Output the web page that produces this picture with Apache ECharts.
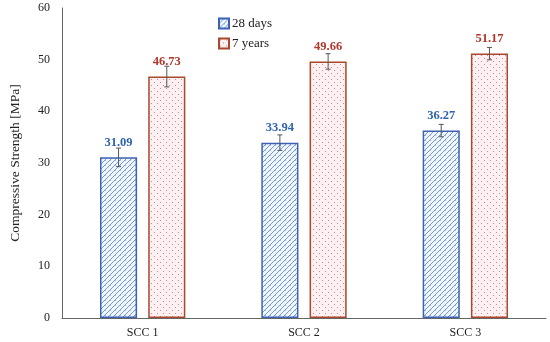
<!DOCTYPE html>
<html><head><meta charset="utf-8">
<script src="https://cdn.jsdelivr.net/npm/echarts@6/dist/echarts.min.js"></script>
<style>html,body{margin:0;padding:0;background:#fff}#c{width:550px;height:342px}</style>
</head><body><div id="c"></div>
<script>
const categories = ['SCC 1', 'SCC 2', 'SCC 3'];
const seriesNames = ['28 days', '7 years'];
const days28 = [31.09, 33.94, 36.27];
const years7 = [46.73, 49.66, 51.17];
const err28 = [1.8, 1.5, 1.2];
const err7 = [2.0, 1.5, 1.2];
const yTicks = [0, 10, 20, 30, 40, 50, 60];

function hatch() {
  const c = document.createElement('canvas'); c.width = 5; c.height = 5;
  const g = c.getContext('2d');
  g.fillStyle = '#eef7fd'; g.fillRect(0, 0, 5, 5);
  g.strokeStyle = '#7b97d2'; g.lineWidth = 1;
  g.beginPath(); g.moveTo(-1, 6); g.lineTo(6, -1); g.stroke();
  g.beginPath(); g.moveTo(-3.5, 3.5); g.lineTo(3.5, -3.5); g.stroke();
  g.beginPath(); g.moveTo(1.5, 8.5); g.lineTo(8.5, 1.5); g.stroke();
  g.fillStyle = '#a9bde4'; g.fillRect(0, 0, 1, 1);
  return c;
}
function dots() {
  const c = document.createElement('canvas'); c.width = 6; c.height = 6;
  const g = c.getContext('2d');
  g.fillStyle = '#fdf0f2'; g.fillRect(0, 0, 6, 6);
  g.fillStyle = '#d08a8a';
  g.fillRect(1, 1, 1, 1); g.fillRect(4, 4, 1, 1);
  return c;
}
const chart = echarts.init(document.getElementById('c'));
const font = '"Liberation Serif", "DejaVu Serif", serif';
function errSeries(vals, errs, sign) {
  return {
    type: 'custom', silent: true, z: 10,
    data: vals.map((v, i) => [i, v, errs[i]]),
    renderItem: function (params, api) {
      const i = api.value(0), v = api.value(1), e = api.value(2);
      const band = api.size([1, 0])[0];
      const off = sign * band * 0.23 * 1.3 / 2;
      const top = api.coord([i, v + e]);
      const bot = api.coord([i, v - e]);
      const x = top[0] + off;
      const w = 2.5;
      const st = { stroke: '#555', lineWidth: 1 };
      return { type: 'group', children: [
        { type: 'line', shape: { x1: x, y1: top[1], x2: x, y2: bot[1] }, style: st },
        { type: 'line', shape: { x1: x - w, y1: top[1], x2: x + w, y2: top[1] }, style: st },
        { type: 'line', shape: { x1: x - w, y1: bot[1], x2: x + w, y2: bot[1] }, style: st }
      ]};
    }
  };
}
chart.setOption({
  animation: false,
  grid: { left: 60, right: 4, top: 8, bottom: 24 },
  legend: {
    orient: 'vertical', left: 213, top: 12, itemWidth: 10, itemHeight: 10, itemGap: 7,
    icon: 'rect',
    data: seriesNames,
    textStyle: { fontFamily: font, fontSize: 13, color: '#222', padding: [0, 0, 0, -2] }
  },
  xAxis: {
    type: 'category', data: categories,
    axisLine: { lineStyle: { color: '#666', width: 1 } },
    axisTick: { show: false },
    axisLabel: { fontFamily: font, fontSize: 12, color: '#222', margin: 9 }
  },
  yAxis: {
    type: 'value', min: 0, max: 60, interval: 10,
    name: 'Compressive Strength [MPa]', nameLocation: 'middle', nameGap: 40,
    nameTextStyle: { fontFamily: font, fontSize: 13.5, color: '#222' },
    axisLine: { show: true, lineStyle: { color: '#666', width: 1 } },
    axisTick: { show: false },
    splitLine: { show: false },
    axisLabel: { fontFamily: font, fontSize: 12, color: '#222', margin: 12,
      formatter: v => yTicks.includes(v) ? String(v) : '' }
  },
  series: [
    {
      name: seriesNames[0], type: 'bar', data: days28, barWidth: '23%', barGap: '30%',
      itemStyle: { color: { image: hatch(), repeat: 'repeat' }, borderColor: '#3d62b3', borderWidth: 1.5 },
      label: { show: true, position: 'top', distance: 8, fontFamily: font, fontWeight: 'bold', fontSize: 12.5,
        color: '#2e63ad', formatter: p => p.value.toFixed(2) }
    },
    {
      name: seriesNames[1], type: 'bar', data: years7, barWidth: '23%', barGap: '30%',
      itemStyle: { color: { image: dots(), repeat: 'repeat' }, borderColor: '#a8482c', borderWidth: 1.5 },
      label: { show: true, position: 'top', distance: 8, fontFamily: font, fontWeight: 'bold', fontSize: 12.5,
        color: '#b2352a', formatter: p => p.value.toFixed(2) }
    },
    errSeries(days28, err28, -1),
    errSeries(years7, err7, 1)
  ]
});
</script></body></html>
